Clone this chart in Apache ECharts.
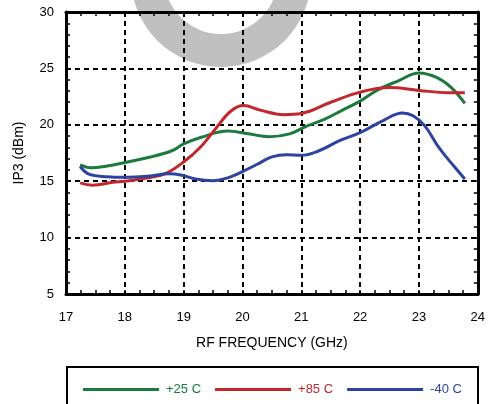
<!DOCTYPE html>
<html>
<head>
<meta charset="utf-8">
<script src="https://cdn.jsdelivr.net/npm/echarts@6/dist/echarts.min.js"></script>
<style>
html,body{margin:0;padding:0;background:#fff;}
#chart{width:488px;height:404px;}
</style>
</head>
<body>
<div id="chart"></div>
<script>
var seriesNames = ['+25 C', '+85 C', '-40 C'];
var seriesColors = ['#1b7a3c', '#c1272d', '#2d43a0'];

var freq25 = [17.24,17.42,17.7,18.0,18.4,18.8,19.0,19.3,19.75,20.1,20.45,20.8,21.1,21.4,21.7,22.0,22.3,22.65,23.0,23.3,23.55,23.78];
var ip25   = [16.45,16.2,16.35,16.65,17.1,17.7,18.3,18.9,19.45,19.2,18.95,19.2,19.9,20.5,21.3,22.1,23.1,23.9,24.6,24.2,23.3,21.9];

var freq85 = [17.24,17.45,17.8,18.0,18.4,18.7,19.0,19.3,19.55,19.8,20.02,20.3,20.7,21.0,21.5,22.0,22.5,23.0,23.5,23.78];
var ip85   = [14.85,14.65,14.9,15.0,15.3,15.7,16.7,18.1,19.7,21.2,21.7,21.3,20.9,21.0,22.0,22.9,23.3,23.05,22.85,22.85];

var freqM40 = [17.24,17.4,17.7,18.0,18.4,18.75,18.95,19.2,19.5,19.75,20.0,20.25,20.5,20.75,21.0,21.3,21.65,22.0,22.4,22.72,22.9,23.1,23.35,23.6,23.78];
var ipM40   = [16.3,15.6,15.4,15.35,15.45,15.65,15.55,15.2,15.05,15.3,15.85,16.5,17.15,17.35,17.3,17.7,18.6,19.3,20.4,21.05,20.8,19.9,17.9,16.3,15.2];

var xTicks = [17,18,19,20,21,22,23,24];
var yTicks = [5,10,15,20,25,30];

function pairs(xs, ys){ return xs.map(function(x,i){ return [x, ys[i]]; }); }
var allData = [pairs(freq25, ip25), pairs(freq85, ip85), pairs(freqM40, ipM40)];

var chart = echarts.init(document.getElementById('chart'), null, {renderer:'canvas'});
var font = 'Liberation Sans, Arial, Helvetica, sans-serif';

function xAxisBase(pos){
  return {
    type:'value', position:pos, min:xTicks[0], max:xTicks[xTicks.length-1], interval:1,
    axisLine:{show:true, onZero:false, lineStyle:{color:'#000', width:3}},
    axisTick:{show:true, inside:true, length:4, lineStyle:{color:'#000', width:1.5}},
    minorTick:{show:true, splitNumber:4, length:4, lineStyle:{color:'#000', width:1.5}},
    splitLine:{show:false},
    axisLabel:{show:false}
  };
}
function yAxisBase(pos){
  return {
    type:'value', position:pos, min:yTicks[0], max:yTicks[yTicks.length-1], interval:5,
    axisLine:{show:true, onZero:false, lineStyle:{color:'#000', width:3}},
    axisTick:{show:true, inside:true, length:4, lineStyle:{color:'#000', width:1.5}},
    minorTick:{show:true, splitNumber:5, length:4, lineStyle:{color:'#000', width:1.5}},
    splitLine:{show:false},
    axisLabel:{show:false}
  };
}

var xMain = xAxisBase('bottom');
xMain.splitLine = {show:true, lineStyle:{color:'#000', width:2, type:[5,4]}};
xMain.axisLabel = {show:true, color:'#000', fontSize:13, fontFamily:font, margin:17};
xMain.name = 'RF FREQUENCY (GHz)';
xMain.nameLocation = 'middle';
xMain.nameGap = 42;
xMain.nameTextStyle = {color:'#000', fontSize:14, fontFamily:font};
var xTop = xAxisBase('top');

var yMain = yAxisBase('left');
yMain.splitLine = {show:true, lineStyle:{color:'#000', width:2, type:[5,4]}};
yMain.axisLabel = {show:true, color:'#000', fontSize:13, fontFamily:font, margin:12};
yMain.name = 'IP3 (dBm)';
yMain.nameLocation = 'middle';
yMain.nameGap = 40;
yMain.nameTextStyle = {color:'#000', fontSize:14, fontFamily:font};
var yRight = yAxisBase('right');

var option = {
  backgroundColor:'#fff',
  animation:false,
  grid:{left:66, right:7, top:12, bottom:110, containLabel:false},
  xAxis:[xMain, xTop],
  yAxis:[yMain, yRight],
  legend:{
    left:83, top:383, padding:0, icon:'rect', itemWidth:76, itemHeight:3, itemGap:14,
    textStyle:{fontSize:13, fontFamily:font, padding:[0,0,0,2]},
    data: seriesNames.map(function(n,i){ return {name:n, textStyle:{color:seriesColors[i]}}; })
  },
  graphic:[
    {type:'ring', z:-10, silent:true, shape:{cx:221, cy:-23, r:90, r0:57}, style:{fill:'#c0c0c0'}},
    {type:'rect', z:10, silent:true, shape:{x:67, y:367, width:411, height:60}, style:{fill:'none', stroke:'#000', lineWidth:2}}
  ],
  series: seriesNames.map(function(n,i){
    return {
      name:n, type:'line', xAxisIndex:0, yAxisIndex:0, data:allData[i],
      smooth:0.4, showSymbol:false, symbol:'none',
      lineStyle:{color:seriesColors[i], width:3},
      itemStyle:{color:seriesColors[i]}, z:5
    };
  })
};
chart.setOption(option);
</script>
</body>
</html>
